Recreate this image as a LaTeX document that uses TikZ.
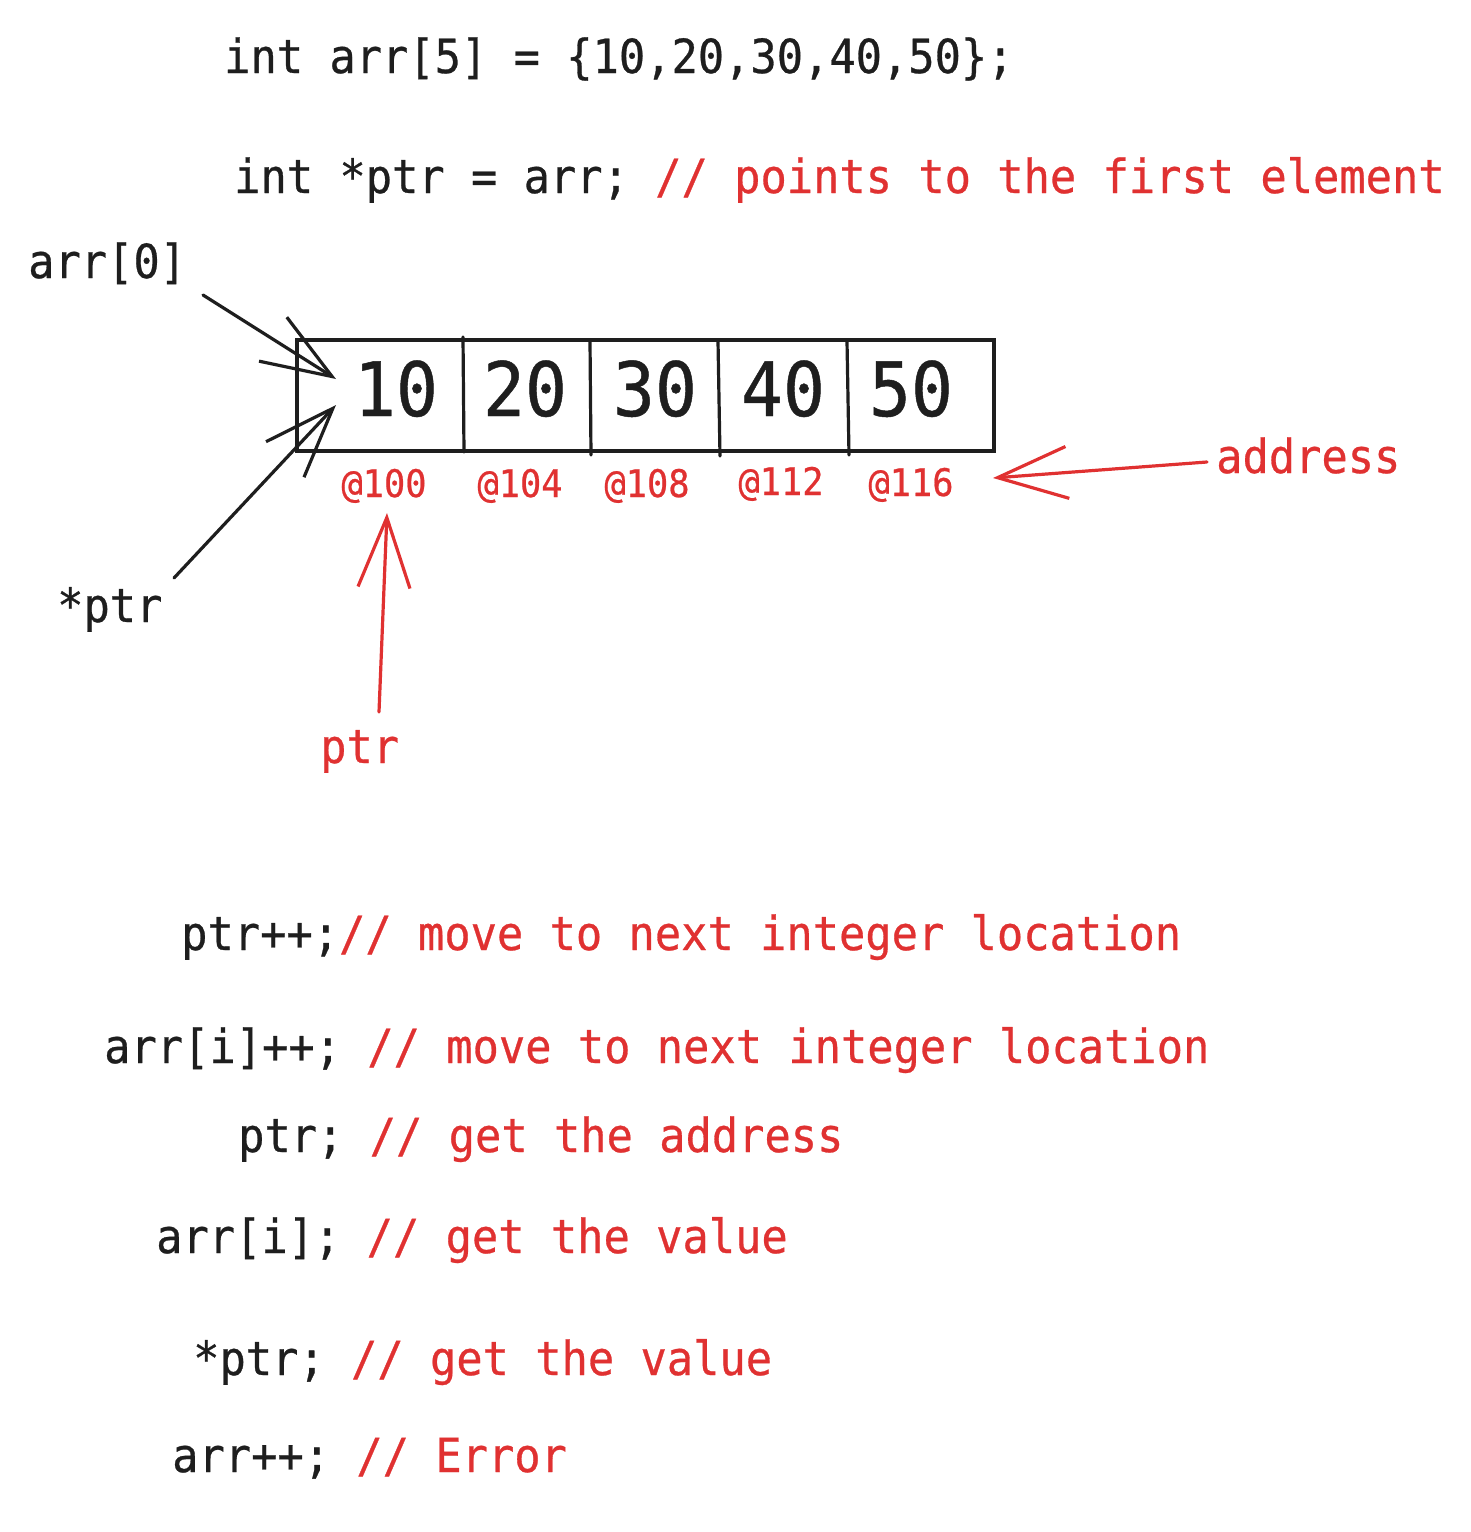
\documentclass[tikz,border=0pt]{standalone}
\usepackage{fontspec}
\usetikzlibrary{arrows.meta}
\newfontfamily\sketchfont{DejaVu Sans Mono}[FakeStretch=0.93,FakeBold=0.6]
\definecolor{ink}{HTML}{1E1E1E}
\definecolor{inkred}{HTML}{E03131}
\begin{document}
\frenchspacing
\begin{tikzpicture}[x=1pt,y=-1pt]
\tikzstyle{code}=[anchor=base west,inner sep=0pt,text=ink,font=\sketchfont\fontsize{47}{56}\selectfont]
\tikzstyle{note}=[code,text=inkred]
\tikzstyle{num}=[anchor=base,inner sep=0pt,text=ink,font=\sketchfont\fontsize{75}{90}\selectfont]
\tikzstyle{addr}=[anchor=base,inner sep=0pt,text=inkred,font=\sketchfont\fontsize{38}{46}\selectfont]
\tikzstyle{cell}=[draw=ink,line width=3.2pt,line cap=round]
\tikzstyle{pointer}=[line width=3.2pt,line cap=round,line join=round,-{Straight Barb[length=70pt,width=52pt]}]
\useasboundingbox (0,0) rectangle (1471,1532);
% code lines
\draw (224,73) node[code] (l1) {int arr[5] = \{10,20,30,40,50\};};
\draw (234,193) node[code] (l2) {int *ptr = arr; \textcolor{inkred}{// points to the first element}};
% array
\draw (645.5,395.5) node[cell,minimum width=697pt,minimum height=111pt,inner sep=0pt] (arr) {};
\draw[cell] (463,337) -- (464,452);
\draw[cell] (590,341) -- (591,455);
\draw[cell] (718,341) -- (720,456);
\draw[cell] (847,341) -- (849,455);
\draw (396,416) node[num] (n1) {10};
\draw (525,416) node[num] (n2) {20};
\draw (655,416) node[num] (n3) {30};
\draw (783,416) node[num] (n4) {40};
\draw (911,416) node[num] (n5) {50};
\draw (384,497) node[addr] (a1) {@100};
\draw (520,497) node[addr] (a2) {@104};
\draw (647,497) node[addr] (a3) {@108};
\draw (781,495) node[addr] (a4) {@112};
\draw (911,496) node[addr] (a5) {@116};
% labels
\draw (28,278) node[code] (arr0) {arr[0]};
\draw (57,622) node[code] (star) {*ptr};
\draw (320,763) node[note] (ptr) {ptr};
\draw (1216,473) node[note] (address) {address};
\coordinate (arr0s) at (203,295);
\coordinate (arr0t) at (336,379);
\coordinate (stars) at (174,578);
\coordinate (start) at (336,405);
\coordinate (ptrs) at (379,712);
\coordinate (ptrt) at (387,513);
\coordinate (addresss) at (1207,462);
\coordinate (addresst) at (993,478);
\draw[pointer,ink] (arr0s) -- (arr0t);
\draw[pointer,ink] (stars) -- (start);
\draw[pointer,inkred] (ptrs) -- (ptrt);
\draw[pointer,inkred] (addresss) -- (addresst);
% statements
\draw (181,950) node[code] (s1) {ptr++;\textcolor{inkred}{// move to next integer location}};
\draw (104,1063) node[code] (s2) {arr[i]++; \textcolor{inkred}{// move to next integer location}};
\draw (238,1152) node[code] (s3) {ptr; \textcolor{inkred}{// get the address}};
\draw (156,1253) node[code] (s4) {arr[i]; \textcolor{inkred}{// get the value}};
\draw (193,1375) node[code] (s5) {*ptr; \textcolor{inkred}{// get the value}};
\draw (172,1472) node[code] (s6) {arr++; \textcolor{inkred}{// Error}};
\end{tikzpicture}
\end{document}
